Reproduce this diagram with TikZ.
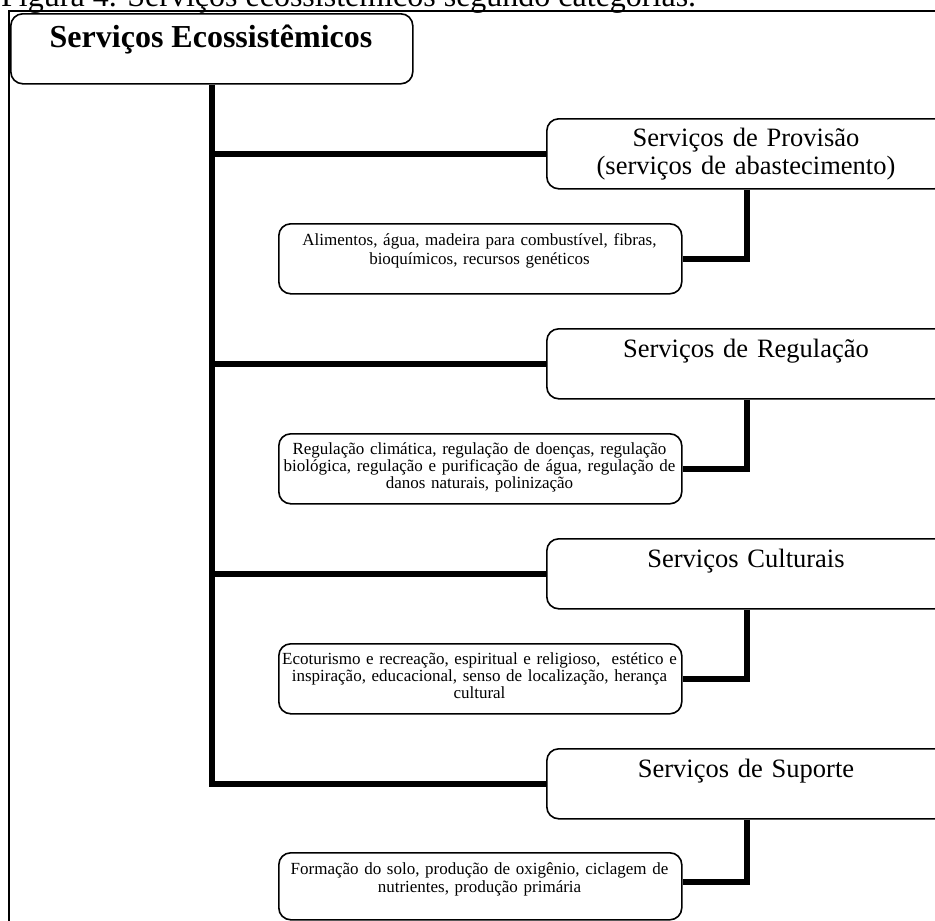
\documentclass[tikz,border=0pt]{standalone}
\usepackage{fontspec}
\setmainfont{Liberation Serif}
\begin{document}
\begin{tikzpicture}[x=1pt,y=-1pt,
  box/.style={draw, line width=1.6pt, rounded corners=12pt, inner sep=0pt, anchor=north west},
  topbox/.style={box, minimum width=402pt, minimum height=70pt},
  catbox/.style={box, minimum width=400pt, minimum height=70pt},
  subbox/.style={box, minimum width=403pt, minimum height=70pt},
  conn/.style={line width=6pt, line join=miter},
  frameline/.style={line width=1.8pt},
  captext/.style={font=\fontsize{32}{36}\selectfont, inner sep=0pt, anchor=base west},
  titletext/.style={font=\fontsize{32}{36}\selectfont\bfseries, inner sep=0pt, anchor=base},
  cattext/.style={font=\fontsize{26.5}{28}\selectfont, align=center, text width=400pt, inner sep=0pt, anchor=base},
  subtext/.style={font=\fontsize{17}{17}\selectfont, align=center, text width=403pt, inner sep=0pt, anchor=base}
]
\useasboundingbox (0,0) rectangle (935,921);

% caption above the frame
\node[captext] (cap) at (1,6.5) {Figura 4. Serviços ecossistêmicos segundo categorias.};

% frame
\draw[frameline] (9,925) -- (9,11) -- (940,11);

% root box
\node[topbox] (root) at (10,13) {};
\node[titletext] (roottxt) at (211,47) {Serviços Ecossistêmicos};

% category boxes
\node[catbox] (prov) at (546,118) {};
\node[catbox] (reg)  at (546,328) {};
\node[catbox] (cult) at (546,538) {};
\node[catbox] (sup)  at (546,748) {};

\node[cattext] (provtxt) at (746,146) {Serviços de Provisão\\(serviços de abastecimento)};
\node[cattext] (regtxt)  at (746,357) {Serviços de Regulação};
\node[cattext] (culttxt) at (746,567) {Serviços Culturais};
\node[cattext] (suptxt)  at (746,777) {Serviços de Suporte};

% detail boxes
\node[subbox] (provd) at (278,223) {};
\node[subbox] (regd)  at (278,433) {};
\node[subbox] (cultd) at (278,643) {};
\node[subbox, minimum height=67pt] (supd) at (278,852) {};

\node[subtext, font=\fontsize{17}{19}\selectfont] (provdtxt) at (479.5,245) {Alimentos, água, madeira para combustível, fibras,\\bioquímicos, recursos genéticos};
\node[subtext] (regdtxt)  at (479.5,454) {Regulação climática, regulação de doenças, regulação\\biológica, regulação e purificação de água, regulação de\\danos naturais, polinização};
\node[subtext] (cultdtxt) at (479.5,664) {Ecoturismo e recreação, espiritual e religioso,\ \ estético e\\inspiração, educacional, senso de localização, herança\\cultural};
\node[subtext, font=\fontsize{17}{18.5}\selectfont] (supdtxt)  at (479.5,874) {Formação do solo, produção de oxigênio, ciclagem de\\nutrientes, produção primária};

% trunk and branches
\draw[conn] (root.south) |- (sup.west);
\draw[conn] (root.south |- prov.west) -- (prov.west);
\draw[conn] (root.south |- reg.west) -- (reg.west);
\draw[conn] (root.south |- cult.west) -- (cult.west);

% category to detail connectors
\draw[conn] (prov.south) |- (provd.east);
\draw[conn] (reg.south) |- (regd.east);
\draw[conn] (cult.south) |- (cultd.east);
\draw[conn] (sup.south) |- ([yshift=4pt]supd.east);
\end{tikzpicture}
\end{document}
